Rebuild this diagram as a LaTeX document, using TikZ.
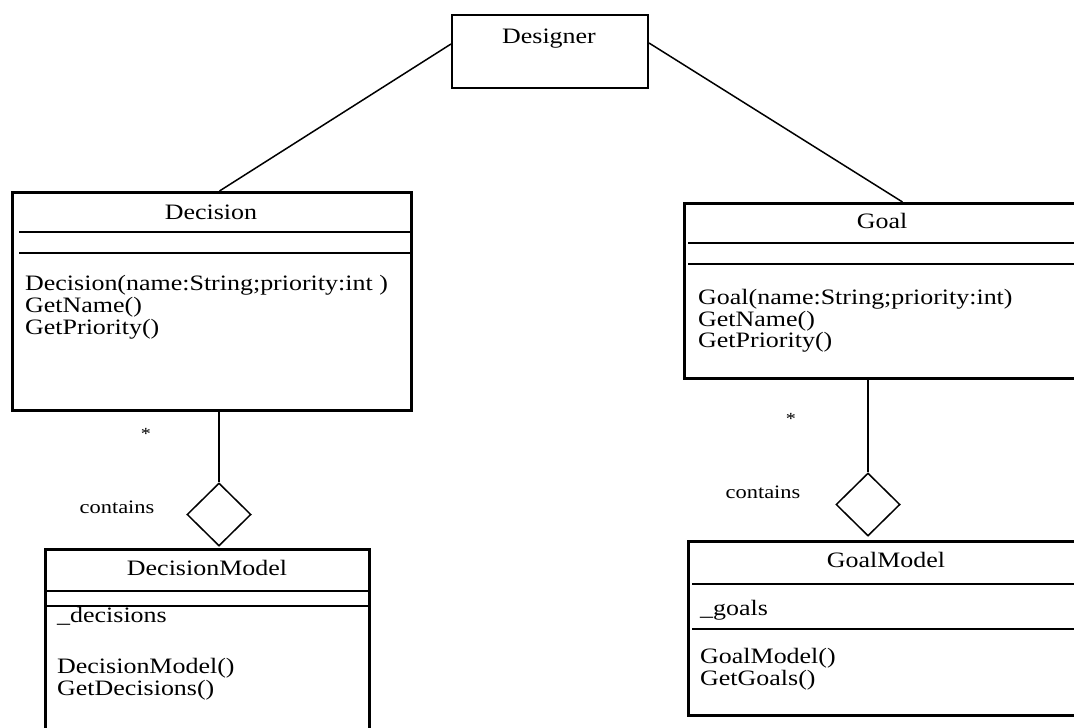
\documentclass[tikz,border=0pt]{standalone}
\usepackage{fontspec}
\setmainfont[FakeStretch=1.18]{Liberation Serif}
\usetikzlibrary{shapes.geometric}

\begin{document}
\begin{tikzpicture}[
    x=1pt, y=-1pt,
    classbox/.style={draw, line width=3pt, anchor=north west, inner sep=0pt},
    sep/.style={line width=2pt},
    link/.style={line width=1.5pt},
    agg/.style={diamond, draw, line width=1.5pt, minimum width=64pt, minimum height=63pt, inner sep=0pt},
    title/.style={anchor=base, inner sep=0pt, font=\fontsize{22}{22}\selectfont},
    member/.style={anchor=base west, inner sep=0pt, font=\fontsize{22}{22}\selectfont},
    note/.style={anchor=base, inner sep=0pt, font=\fontsize{19}{20}\selectfont}
]
\useasboundingbox (0,0) rectangle (1074,728);

% Designer box
\node[classbox, line width=2pt, minimum width=196pt, minimum height=73pt] (designer) at (451,14) {};
\node[title] (designername) at (549,43) {Designer};

% Decision class
\node[classbox, minimum width=399pt, minimum height=218pt] (decision) at (11,191) {};
\node[title] (decisionname) at (211,219) {Decision};
\draw[sep] (19,232) -- (410,232);
\draw[sep] (19,253) -- (410,253);
\foreach \m [count=\i] in {Decision(name:String;priority:int ), GetName(), GetPriority()} {
    \node[member] (decisionop\i) at (25,268+22*\i) {\m};
}

% Goal class
\node[classbox, minimum width=400pt, minimum height=175pt] (goal) at (683,202) {};
\node[title] (goalname) at (882,228) {Goal};
\draw[sep] (688,243) -- (1083,243);
\draw[sep] (688,264) -- (1083,264);
\foreach \m [count=\i] in {Goal(name:String;priority:int), GetName(), GetPriority()} {
    \node[member] (goalop\i) at (698,283+21.5*\i) {\m};
}

% DecisionModel class
\node[classbox, minimum width=324pt, minimum height=195pt] (decisionmodel) at (44,548) {};
\node[title] (decisionmodelname) at (207,575) {DecisionModel};
\draw[sep] (46,591) -- (368,591);
\draw[sep] (46,606) -- (368,606);
\node[member] (decisionsattr) at (57,622) {\_decisions};
\foreach \m [count=\i] in {DecisionModel(), GetDecisions()} {
    \node[member] (decisionmodelop\i) at (57,651+22*\i) {\m};
}

% GoalModel class
\node[classbox, minimum width=400pt, minimum height=174pt] (goalmodel) at (687,540) {};
\node[title] (goalmodelname) at (886,567) {GoalModel};
\draw[sep] (692,584) -- (1087,584);
\draw[sep] (692,629) -- (1087,629);
\node[member] (goalsattr) at (700,615) {\_goals};
\foreach \m [count=\i] in {GoalModel(), GetGoals()} {
    \node[member] (goalmodelop\i) at (700,641+22*\i) {\m};
}

% aggregation diamonds
\node[agg] (decisionagg) at (219,514.5) {};
\node[agg] (goalagg) at (868,504.5) {};

% associations
\draw[link] ([yshift=7.5pt]designer.west) -- ([xshift=7.5pt]decision.north);
\draw[link] ([yshift=8.5pt]designer.east) -- ([xshift=18pt]goal.north);
\draw[link] (decisionagg.north) -- (decisionagg.north |- decision.south);
\draw[link] (goalagg.north) -- (goalagg.north |- goal.south);

% multiplicities and role names
\node[note, anchor=center, font=\fontsize{17}{17}\selectfont] (decisionmult) at (146,434) {*};
\node[note, anchor=center, font=\fontsize{17}{17}\selectfont] (goalmult) at (791,419) {*};
\node[note] (decisioncontains) at (117,513) {contains};
\node[note] (goalcontains) at (763,498) {contains};

\end{tikzpicture}
\end{document}
